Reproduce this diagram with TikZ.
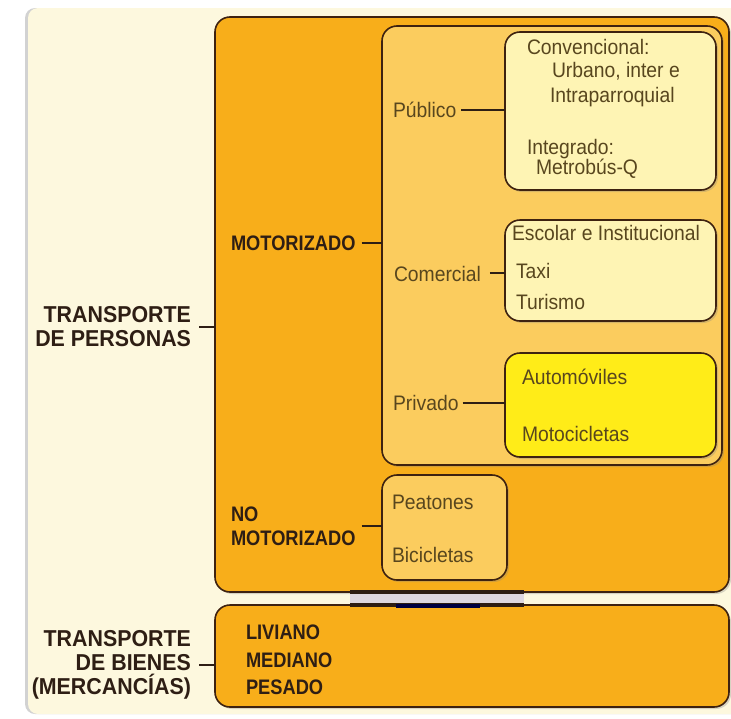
\documentclass[tikz,border=0pt]{standalone}
\usepackage{fontspec}
\setmainfont{Liberation Sans}[FakeStretch=0.92]
\newfontfamily\tagfont{Liberation Sans}[FakeStretch=0.87]
\newfontfamily\bigfont{Liberation Sans}[FakeStretch=0.93]
\usetikzlibrary{shadows}

\definecolor{panelcream}{RGB}{253,248,222}
\definecolor{deeporange}{RGB}{248,174,26}
\definecolor{softorange}{RGB}{251,204,94}
\definecolor{paleyellow}{RGB}{254,244,180}
\definecolor{brightyellow}{RGB}{255,236,24}
\definecolor{edgebrown}{RGB}{62,34,16}
\definecolor{inkbrown}{RGB}{46,30,20}
\definecolor{textolive}{RGB}{88,70,30}
\definecolor{jointgray}{RGB}{222,216,224}

\begin{document}
\begin{tikzpicture}
    [
    x=1pt, y=-1pt,
    every node/.style={inner sep=0pt, outer sep=0pt},
    panel/.style={rectangle, rounded corners=15pt, draw=edgebrown, line width=1.6pt, anchor=north west,
        drop shadow={shadow xshift=2pt, shadow yshift=-2pt, opacity=0.3}},
    item/.style={font=\fontsize{21}{24}\selectfont, text=textolive, anchor=base west},
    tag/.style={font=\tagfont\bfseries\fontsize{21}{24}\selectfont, text=inkbrown},
    bigtag/.style={font=\bigfont\bfseries\fontsize{23}{24}\selectfont, text=inkbrown, align=right, anchor=east},
    link/.style={draw=inkbrown, line width=2pt}
    ]

% Background
    \useasboundingbox (0,0) rectangle (731,718);
    \fill[white] (0,0) rectangle (731,718);
    \fill[panelcream, rounded corners=10pt, drop shadow={shadow xshift=-3pt, shadow yshift=0pt, opacity=0.35}] (28,8) rectangle (760,714);

% Boxes
    \node[panel, fill=deeporange, minimum width=514, minimum height=575] (personas) at (215,17) {};
    \node[panel, fill=softorange, minimum width=340, minimum height=439] (motor) at (382,26) {};
    \node[panel, fill=paleyellow, minimum width=211, minimum height=158] (publico) at (505,32) {};
    \node[panel, fill=paleyellow, minimum width=211, minimum height=101] (comercial) at (505,220) {};
    \node[panel, fill=brightyellow, minimum width=211, minimum height=104] (privado) at (505,353) {};
    \node[panel, fill=softorange, minimum width=125, minimum height=105] (nomotor) at (382,475) {};
    \node[panel, fill=deeporange, minimum width=514, minimum height=102] (bienes) at (215,605) {};

% Joint between the two big boxes
    \fill[jointgray] (350,594) rectangle (524,603);
    \draw[line width=4pt, inkbrown] (350,592) -- (524,592);
    \draw[line width=3.5pt, inkbrown] (350,605) -- (524,605);
    \draw[line width=4pt, blue!25!black] (396,606) -- (480,606);

% Left labels
    \node[bigtag] (personas_lbl) at (191,327) {TRANSPORTE\\DE PERSONAS};
    \node[bigtag] (bienes_lbl) at (191,665) {TRANSPORTE\\DE BIENES\\(MERCANCÍAS)};

% Second level
    \node[tag, anchor=base west] (motor_lbl) at (231,250) {MOTORIZADO};
    \node[tag, align=left, anchor=west] (nomotor_lbl) at (231,526) {NO\\MOTORIZADO};
    \node[item] (publico_lbl) at (393,117) {Público};
    \node[item] (comercial_lbl) at (394,281) {Comercial};
    \node[item] (privado_lbl) at (393,410) {Privado};

% Box contents
    \node[item] (conv) at (527,54) {Convencional:};
    \node[item] (urbano) at (552,77) {Urbano, inter e};
    \node[item] (intra) at (550,102) {Intraparroquial};
    \node[item] (integ) at (527,154) {Integrado:};
    \node[item] (metro) at (536,174) {Metrobús-Q};
    \node[item] (escolar) at (512,240) {Escolar e Institucional};
    \node[item] (taxi) at (516,278) {Taxi};
    \node[item] (turismo) at (516,309) {Turismo};
    \node[item] (autom) at (522,384) {Automóviles};
    \node[item] (moto) at (522,441) {Motocicletas};
    \node[item] (peatones) at (392,509) {Peatones};
    \node[item] (bicis) at (392,562) {Bicicletas};
    \node[tag, anchor=base west] (liviano) at (246,639) {LIVIANO};
    \node[tag, anchor=base west] (mediano) at (246,667) {MEDIANO};
    \node[tag, anchor=base west] (pesado) at (246,694) {PESADO};

% Links
    \draw[link] ([xshift=8]personas_lbl.east) coordinate (a1) -- (a1 -| personas.west);
    \draw[link] ([xshift=8]bienes_lbl.east) coordinate (a2) -- (a2 -| bienes.west);
    \draw[link] ([shift={(6,-7)}]motor_lbl.base east) coordinate (a3) -- (a3 -| motor.west);
    \draw[link] ([xshift=6]nomotor_lbl.east) coordinate (a4) -- (a4 -| nomotor.west);
    \draw[link] ([shift={(5,-7)}]publico_lbl.base east) coordinate (a5) -- (a5 -| publico.west);
    \draw[link] ([shift={(9,-8)}]comercial_lbl.base east) coordinate (a6) -- (a6 -| comercial.west);
    \draw[link] ([shift={(4,-7)}]privado_lbl.base east) coordinate (a7) -- (a7 -| privado.west);

\end{tikzpicture}
\end{document}
